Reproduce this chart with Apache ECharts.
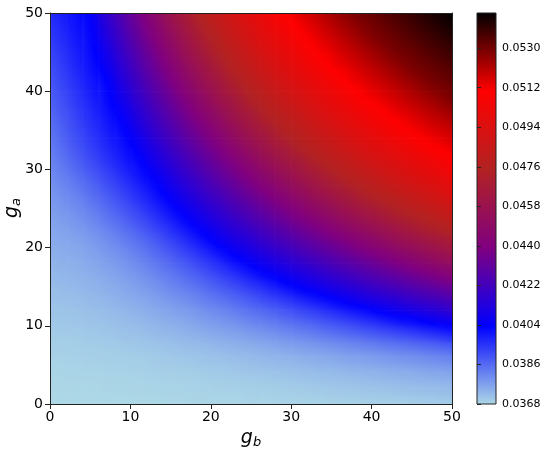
<!DOCTYPE html>
<html>
<head>
<meta charset="utf-8">
<script src="https://cdn.jsdelivr.net/npm/echarts@6.0.0/dist/echarts.min.js"></script>
<style>
html, body { margin: 0; padding: 0; background: #fff; }
#chart { width: 550px; height: 453px; }
</style>
</head>
<body>
<div id="chart"></div>
<script>
// cell centres along g_b (columns) and g_a (rows)
const gbCenters = [1, 3, 5, 7, 9, 11, 13, 15, 17, 19, 21, 23, 25, 27, 29, 31, 33, 35, 37, 39, 41, 43, 45, 47, 49]
const gaCenters = [1, 3, 5, 7, 9, 11, 13, 15, 17, 19, 21, 23, 25, 27, 29, 31, 33, 35, 37, 39, 41, 43, 45, 47, 49]

// one row per g_a value
const zRows = [
  [0.03681, 0.03681, 0.03681, 0.03682, 0.03682, 0.03683, 0.03684, 0.03685, 0.03686, 0.03687, 0.03688, 0.03689, 0.03691, 0.03692, 0.03694, 0.03695, 0.03697, 0.03699, 0.03701, 0.03703, 0.03705, 0.03707, 0.03710, 0.03712, 0.03714],
  [0.03684, 0.03685, 0.03685, 0.03686, 0.03687, 0.03688, 0.03690, 0.03691, 0.03693, 0.03695, 0.03698, 0.03700, 0.03702, 0.03705, 0.03708, 0.03711, 0.03714, 0.03718, 0.03721, 0.03725, 0.03729, 0.03733, 0.03737, 0.03741, 0.03745],
  [0.03689, 0.03690, 0.03691, 0.03692, 0.03694, 0.03696, 0.03699, 0.03701, 0.03704, 0.03708, 0.03712, 0.03715, 0.03720, 0.03724, 0.03729, 0.03734, 0.03740, 0.03745, 0.03751, 0.03757, 0.03764, 0.03770, 0.03777, 0.03785, 0.03792],
  [0.03695, 0.03696, 0.03698, 0.03700, 0.03703, 0.03706, 0.03710, 0.03715, 0.03720, 0.03725, 0.03731, 0.03738, 0.03744, 0.03752, 0.03760, 0.03768, 0.03776, 0.03786, 0.03795, 0.03805, 0.03815, 0.03826, 0.03837, 0.03849, 0.03861],
  [0.03702, 0.03703, 0.03706, 0.03710, 0.03715, 0.03720, 0.03727, 0.03734, 0.03742, 0.03751, 0.03761, 0.03771, 0.03782, 0.03794, 0.03807, 0.03820, 0.03835, 0.03850, 0.03865, 0.03881, 0.03898, 0.03916, 0.03934, 0.03953, 0.03973],
  [0.03710, 0.03712, 0.03716, 0.03721, 0.03728, 0.03736, 0.03746, 0.03757, 0.03768, 0.03782, 0.03796, 0.03811, 0.03828, 0.03845, 0.03864, 0.03884, 0.03904, 0.03926, 0.03949, 0.03973, 0.03998, 0.04024, 0.04048, 0.04072, 0.04096],
  [0.03718, 0.03721, 0.03727, 0.03734, 0.03744, 0.03755, 0.03768, 0.03783, 0.03799, 0.03818, 0.03837, 0.03858, 0.03881, 0.03906, 0.03931, 0.03959, 0.03987, 0.04017, 0.04047, 0.04075, 0.04103, 0.04131, 0.04160, 0.04188, 0.04215],
  [0.03727, 0.03732, 0.03739, 0.03749, 0.03761, 0.03776, 0.03793, 0.03813, 0.03835, 0.03859, 0.03885, 0.03913, 0.03943, 0.03975, 0.04009, 0.04044, 0.04076, 0.04109, 0.04141, 0.04174, 0.04206, 0.04236, 0.04266, 0.04296, 0.04325],
  [0.03737, 0.03743, 0.03752, 0.03764, 0.03780, 0.03799, 0.03822, 0.03847, 0.03874, 0.03905, 0.03938, 0.03974, 0.04013, 0.04052, 0.04088, 0.04125, 0.04162, 0.04198, 0.04233, 0.04267, 0.04300, 0.04334, 0.04368, 0.04403, 0.04440],
  [0.03748, 0.03754, 0.03766, 0.03782, 0.03801, 0.03825, 0.03853, 0.03884, 0.03919, 0.03957, 0.03998, 0.04042, 0.04083, 0.04124, 0.04165, 0.04206, 0.04244, 0.04282, 0.04319, 0.04357, 0.04395, 0.04437, 0.04479, 0.04522, 0.04564],
  [0.03759, 0.03768, 0.03783, 0.03803, 0.03828, 0.03857, 0.03890, 0.03928, 0.03969, 0.04014, 0.04060, 0.04106, 0.04151, 0.04196, 0.04239, 0.04281, 0.04322, 0.04364, 0.04407, 0.04454, 0.04500, 0.04547, 0.04590, 0.04629, 0.04669],
  [0.03771, 0.03785, 0.03804, 0.03830, 0.03860, 0.03894, 0.03933, 0.03975, 0.04021, 0.04070, 0.04120, 0.04169, 0.04218, 0.04264, 0.04309, 0.04355, 0.04401, 0.04453, 0.04504, 0.04555, 0.04600, 0.04644, 0.04687, 0.04730, 0.04767],
  [0.03785, 0.03803, 0.03828, 0.03859, 0.03894, 0.03932, 0.03974, 0.04020, 0.04071, 0.04125, 0.04179, 0.04231, 0.04281, 0.04330, 0.04380, 0.04434, 0.04489, 0.04545, 0.04596, 0.04643, 0.04689, 0.04736, 0.04775, 0.04810, 0.04846],
  [0.03800, 0.03824, 0.03854, 0.03889, 0.03927, 0.03968, 0.04012, 0.04064, 0.04122, 0.04180, 0.04236, 0.04290, 0.04343, 0.04397, 0.04457, 0.04517, 0.04576, 0.04627, 0.04677, 0.04728, 0.04771, 0.04810, 0.04848, 0.04887, 0.04925],
  [0.03817, 0.03847, 0.03881, 0.03919, 0.03959, 0.04001, 0.04047, 0.04110, 0.04173, 0.04233, 0.04291, 0.04348, 0.04407, 0.04472, 0.04536, 0.04596, 0.04650, 0.04704, 0.04756, 0.04797, 0.04839, 0.04880, 0.04921, 0.04958, 0.04993],
  [0.03835, 0.03871, 0.03909, 0.03948, 0.03988, 0.04028, 0.04089, 0.04156, 0.04222, 0.04284, 0.04345, 0.04408, 0.04477, 0.04546, 0.04608, 0.04666, 0.04724, 0.04774, 0.04818, 0.04862, 0.04906, 0.04947, 0.04985, 0.05023, 0.05061],
  [0.03852, 0.03892, 0.03931, 0.03971, 0.04010, 0.04060, 0.04131, 0.04203, 0.04269, 0.04334, 0.04400, 0.04474, 0.04547, 0.04613, 0.04674, 0.04736, 0.04786, 0.04833, 0.04880, 0.04927, 0.04967, 0.05008, 0.05048, 0.05089, 0.05122],
  [0.03867, 0.03908, 0.03948, 0.03988, 0.04029, 0.04098, 0.04174, 0.04246, 0.04315, 0.04385, 0.04462, 0.04539, 0.04610, 0.04675, 0.04741, 0.04793, 0.04842, 0.04892, 0.04940, 0.04983, 0.05026, 0.05069, 0.05109, 0.05140, 0.05170],
  [0.03882, 0.03923, 0.03964, 0.04005, 0.04056, 0.04136, 0.04215, 0.04289, 0.04362, 0.04440, 0.04523, 0.04600, 0.04669, 0.04738, 0.04793, 0.04846, 0.04899, 0.04948, 0.04993, 0.05039, 0.05084, 0.05122, 0.05154, 0.05186, 0.05218],
  [0.03897, 0.03938, 0.03980, 0.04021, 0.04089, 0.04174, 0.04254, 0.04331, 0.04410, 0.04497, 0.04582, 0.04655, 0.04728, 0.04788, 0.04844, 0.04899, 0.04951, 0.04999, 0.05047, 0.05095, 0.05131, 0.05165, 0.05199, 0.05233, 0.05267],
  [0.03912, 0.03953, 0.03994, 0.04034, 0.04123, 0.04211, 0.04293, 0.04374, 0.04463, 0.04554, 0.04633, 0.04710, 0.04778, 0.04836, 0.04894, 0.04949, 0.04999, 0.05050, 0.05100, 0.05137, 0.05172, 0.05208, 0.05244, 0.05279, 0.05304],
  [0.03927, 0.03968, 0.04008, 0.04064, 0.04156, 0.04246, 0.04331, 0.04419, 0.04515, 0.04604, 0.04685, 0.04761, 0.04822, 0.04884, 0.04942, 0.04995, 0.05048, 0.05101, 0.05139, 0.05176, 0.05214, 0.05251, 0.05286, 0.05311, 0.05335],
  [0.03942, 0.03981, 0.04020, 0.04093, 0.04190, 0.04281, 0.04370, 0.04467, 0.04567, 0.04652, 0.04736, 0.04803, 0.04867, 0.04931, 0.04986, 0.05041, 0.05096, 0.05138, 0.05177, 0.05216, 0.05255, 0.05290, 0.05315, 0.05341, 0.05367],
  [0.03958, 0.03994, 0.04030, 0.04122, 0.04222, 0.04315, 0.04410, 0.04515, 0.04612, 0.04700, 0.04778, 0.04845, 0.04912, 0.04972, 0.05029, 0.05087, 0.05133, 0.05174, 0.05214, 0.05255, 0.05291, 0.05318, 0.05345, 0.05372, 0.05398],
  [0.03973, 0.04006, 0.04045, 0.04151, 0.04253, 0.04350, 0.04454, 0.04563, 0.04656, 0.04747, 0.04817, 0.04887, 0.04953, 0.05013, 0.05073, 0.05125, 0.05167, 0.05210, 0.05252, 0.05290, 0.05318, 0.05346, 0.05374, 0.05402, 0.05430]
]

const zMin = 0.0368
const zMax = 0.0546
const cbTicks = [0.0368, 0.0386, 0.0404, 0.0422, 0.0440, 0.0458, 0.0476, 0.0494, 0.0512, 0.0530]
const cmap = ['#add8e6', '#0000ff', '#800080', '#b22222', '#ff0000', '#000000']

const FONT = 'DejaVu Sans'

const cells = []
zRows.forEach((row, i) => {
  row.forEach((z, j) => {
    cells.push([gbCenters[j], gaCenters[i], z, i, j])
  })
})
const halfB = (gbCenters[1] - gbCenters[0]) / 2
const halfA = (gaCenters[1] - gaCenters[0]) / 2

const toColor = (v) => {
  const t = Math.min(1, Math.max(0, (v - zMin) / (zMax - zMin)))
  return echarts.color.lerp(t, cmap)
}

// slope of z across a cell (in data units), from its neighbours, used only for shading
const slopeB = (i, j) => {
  const l = Math.max(j - 1, 0)
  const r = Math.min(j + 1, gbCenters.length - 1)
  return (zRows[i][r] - zRows[i][l]) / (gbCenters[r] - gbCenters[l])
}
const slopeA = (i, j) => {
  const d = Math.max(i - 1, 0)
  const u = Math.min(i + 1, gaCenters.length - 1)
  return (zRows[u][j] - zRows[d][j]) / (gaCenters[u] - gaCenters[d])
}

const nameRich = {
  g: { fontFamily: FONT, fontStyle: 'italic', fontSize: 19, color: '#000', lineHeight: 22 },
  s: { fontFamily: FONT, fontStyle: 'italic', fontSize: 13, color: '#000', verticalAlign: 'bottom', lineHeight: 12 }
}

const chart = echarts.init(document.getElementById('chart'))
chart.setOption({
  animation: false,
  backgroundColor: '#fff',
  grid: [
    { left: 50, top: 13, width: 402, height: 391, outerBoundsMode: 'none', containLabel: false },
    { left: 477, top: 13, width: 19, height: 391, outerBoundsMode: 'none', containLabel: false }
  ],
  graphic: [
    {
      type: 'text',
      x: 12,
      y: 208,
      rotation: Math.PI / 2,
      style: {
        text: '{g|g}{s|a}',
        rich: nameRich,
        align: 'center',
        verticalAlign: 'middle'
      }
    }
  ],
  xAxis: [
    {
      gridIndex: 0, type: 'value', min: 0, max: 50, interval: 10, z: 5,
      axisLine: { show: true, onZero: false, lineStyle: { color: '#222', width: 1 } },
      axisTick: { show: true, length: 5, lineStyle: { color: '#222' } },
      axisLabel: { fontFamily: FONT, fontSize: 14, color: '#000', margin: 6 },
      splitLine: { show: false },
      name: '{g|g}{s|b}', nameLocation: 'middle', nameGap: 22,
      nameTextStyle: { rich: nameRich }
    },
    {
      gridIndex: 0, type: 'value', position: 'top', min: 0, max: 50, z: 5,
      axisLine: { show: true, onZero: false, lineStyle: { color: '#222', width: 1 } },
      axisTick: { show: false }, axisLabel: { show: false }, splitLine: { show: false }
    },
    {
      gridIndex: 1, type: 'value', min: 0, max: 1, show: false
    }
  ],
  yAxis: [
    {
      gridIndex: 0, type: 'value', min: 0, max: 50, interval: 10, z: 5,
      axisLine: { show: true, onZero: false, lineStyle: { color: '#222', width: 1 } },
      axisTick: { show: true, length: 5, lineStyle: { color: '#222' } },
      axisLabel: { fontFamily: FONT, fontSize: 14, color: '#000', margin: 7 },
      splitLine: { show: false }
    },
    {
      gridIndex: 0, type: 'value', position: 'right', min: 0, max: 50, z: 5,
      axisLine: { show: true, onZero: false, lineStyle: { color: '#222', width: 1 } },
      axisTick: { show: false }, axisLabel: { show: false }, splitLine: { show: false }
    },
    {
      gridIndex: 1, type: 'value', position: 'right', min: zMin, max: zMax, z: 5,
      axisLine: { show: false },
      axisTick: { show: true, length: 4, lineStyle: { color: '#222' }, customValues: cbTicks },
      axisLabel: {
        fontFamily: FONT, fontSize: 11, color: '#000', margin: 6,
        customValues: cbTicks,
        formatter: (v) => v.toFixed(4)
      },
      splitLine: { show: false }
    }
  ],
  series: [
    {
      type: 'custom',
      xAxisIndex: 0,
      yAxisIndex: 0,
      clip: true,
      z: 2,
      dimensions: ['gb', 'ga', 'z', 'row', 'col'],
      encode: { x: 0, y: 1 },
      data: cells,
      renderItem: (params, api) => {
        const b = api.value(0)
        const a = api.value(1)
        const z = api.value(2)
        const i = api.value(3)
        const j = api.value(4)
        const p0 = api.coord([b - halfB, a + halfA])
        const p1 = api.coord([b + halfB, a - halfA])
        const c = api.coord([b, a])
        const hx = (p1[0] - p0[0]) / 2
        const hy = (p1[1] - p0[1]) / 2
        // z change per pixel
        const gx = slopeB(i, j) * halfB / hx
        const gy = -slopeA(i, j) * halfA / hy
        const g = Math.hypot(gx, gy)
        let fill = toColor(z)
        if (g > 0) {
          const ux = gx / g
          const uy = gy / g
          const d = hx * Math.abs(ux) + hy * Math.abs(uy)
          const stops = [0, 0.25, 0.5, 0.75, 1].map((o) => ({
            offset: o,
            color: toColor(z + g * d * (2 * o - 1))
          }))
          fill = new echarts.graphic.LinearGradient(c[0] - ux * d, c[1] - uy * d, c[0] + ux * d, c[1] + uy * d, stops, true)
        }
        return {
          type: 'rect',
          shape: { x: p0[0], y: p0[1], width: p1[0] - p0[0] + 0.7, height: p1[1] - p0[1] + 0.7 },
          style: { fill: fill }
        }
      }
    },
    {
      type: 'custom',
      xAxisIndex: 2,
      yAxisIndex: 2,
      z: 2,
      data: [[0, zMin, zMax]],
      renderItem: (params, api) => {
        const p0 = api.coord([0, api.value(2)])
        const p1 = api.coord([1, api.value(1)])
        const stops = cmap.map((c, i) => ({ offset: i / (cmap.length - 1), color: c }))
        return {
          type: 'rect',
          shape: { x: p0[0], y: p0[1], width: p1[0] - p0[0], height: p1[1] - p0[1] },
          style: {
            fill: new echarts.graphic.LinearGradient(0, 1, 0, 0, stops),
            stroke: '#222',
            lineWidth: 1
          }
        }
      }
    }
  ]
})
</script>
</body>
</html>
